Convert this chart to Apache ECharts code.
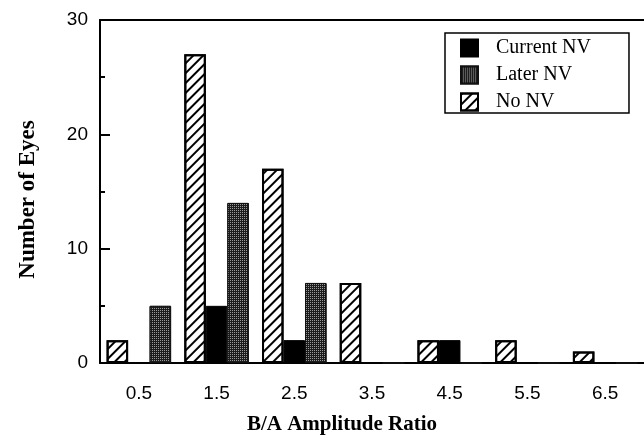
<!DOCTYPE html>
<html>
<head>
<meta charset="utf-8">
<script src="https://cdn.jsdelivr.net/npm/echarts@6/dist/echarts.min.js"></script>
<style>html,body{margin:0;padding:0;background:#fff}#c{width:644px;height:440px}</style>
</head>
<body>
<div id="c"></div>
<script>
var categories = ['0.5', '1.5', '2.5', '3.5', '4.5', '5.5', '6.5'];
var noNV = [2, 27, 17, 7, 2, 2, 1];
var currentNV = [0, 5, 2, 0, 2, 0, 0];
var laterNV = [5, 14, 7, 0, 0, 0, 0];
var yTicks = [0, 10, 20, 30];

var chart = echarts.init(document.getElementById('c'), null, {renderer: 'canvas'});
var axisColor = '#000';
var option = {
  animation: false,
  backgroundColor: '#fff',
  grid: {left: 100, right: 0, top: 20, bottom: 72},
  legend: {
    orient: 'vertical', left: 445, top: 33,
    data: ['Current NV', 'Later NV', 'No NV'],
    itemWidth: 17, itemHeight: 17, itemGap: 7,
    padding: [5, 38, 1, 15],
    borderColor: '#000', borderWidth: 1.5,
    icon: 'rect',
    textStyle: {fontFamily: 'Liberation Serif', fontSize: 20, lineHeight: 17, color: '#000', padding: [0, 0, 0, 13]}
  },
  xAxis: [{
    type: 'category', data: categories, position: 'bottom',
    axisLine: {lineStyle: {color: axisColor, width: 2}},
    axisTick: {alignWithLabel: true, length: 7, lineStyle: {width: 2, color: axisColor}},
    axisLabel: {fontFamily: 'Liberation Sans', fontSize: 19, color: '#000', margin: 21},
    name: 'B/A Amplitude Ratio', nameLocation: 'middle', nameGap: 51,
    nameTextStyle: {fontFamily: 'Liberation Serif', fontWeight: 'bold', fontSize: 21, color: '#000', padding: [0, 60, 0, 0]}
  }, {
    type: 'category', data: categories, position: 'top',
    axisLine: {lineStyle: {color: axisColor, width: 2}},
    axisTick: {show: false}, axisLabel: {show: false}
  }],
  yAxis: {
    type: 'value', min: 0, max: 30, interval: 10,
    axisLine: {show: true, lineStyle: {color: axisColor, width: 2}},
    axisTick: {show: true, inside: true, length: 10, lineStyle: {width: 2, color: axisColor}},
    minorTick: {show: true, splitNumber: 2, length: 5, lineStyle: {width: 2, color: axisColor}},
    splitLine: {show: false},
    axisLabel: {fontFamily: 'Liberation Sans', fontSize: 19, color: '#000', margin: 12,
      formatter: function (v) { return yTicks.indexOf(v) >= 0 ? String(v) : ''; }},
    name: 'Number of Eyes', nameLocation: 'middle', nameGap: 60,
    nameTextStyle: {fontFamily: 'Liberation Serif', fontWeight: 'bold', fontSize: 23, color: '#000', padding: [0, 16, 0, 0]}
  },
  series: [{
    name: 'No NV', type: 'bar', data: noNV, barGap: '0%', barCategoryGap: '17%',
    itemStyle: {color: '#fff', borderColor: '#000', borderWidth: 2,
      decal: {symbol: 'rect', symbolSize: 1, color: '#000', dashArrayX: [1, 0], dashArrayY: [1.6, 5], rotation: -Math.PI / 4}}
  }, {
    name: 'Current NV', type: 'bar', data: currentNV, barGap: '0%', barCategoryGap: '17%',
    itemStyle: {color: '#000', borderColor: '#000', borderWidth: 1}
  }, {
    name: 'Later NV', type: 'bar', data: laterNV, barGap: '0%', barCategoryGap: '17%',
    itemStyle: {color: '#1c1c1c', borderColor: '#111', borderWidth: 1,
      decal: {symbol: 'rect', symbolSize: 1, color: '#9a9a9a', dashArrayX: [1, 1], dashArrayY: [1, 1], rotation: 0}}
  }]
};
chart.setOption(option);
</script>
</body>
</html>
